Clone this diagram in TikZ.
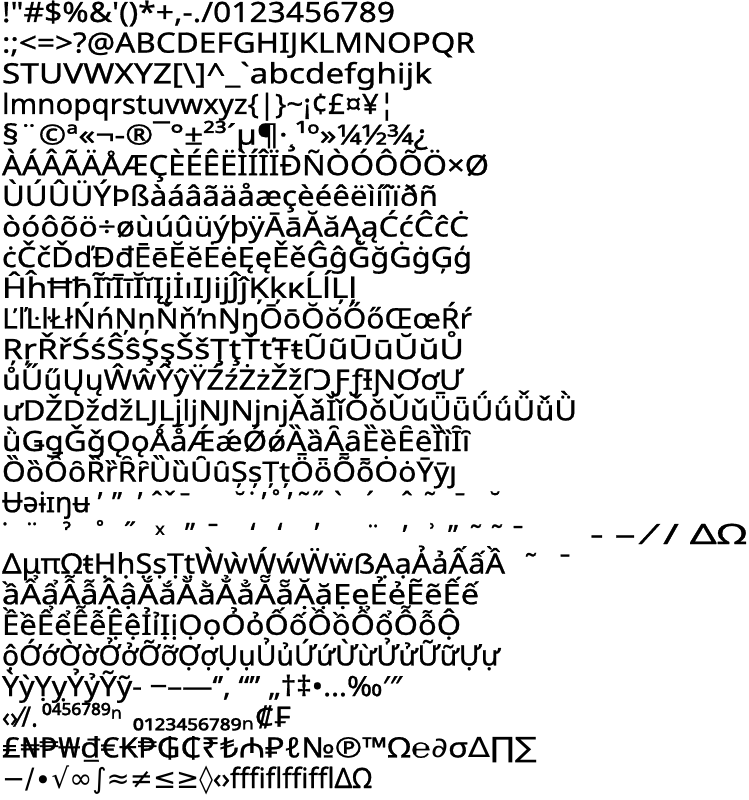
\documentclass[tikz,border=0pt]{standalone}
\usepackage{fontspec}
\usepackage{graphicx}
\usepackage{tikz}
\usetikzlibrary{positioning}
\newfontfamily\specimen{Noto Sans}[Ligatures=TeXOff,FakeBold=0.8]
\newfontfamily\mathsym{DejaVu Sans}[Ligatures=TeXOff]
\newcommand{\fitrow}[2]{\resizebox{#1pt}{\height}{#2}}

\begin{document}
\begin{tikzpicture}[x=1pt,y=-1pt,
    glyphrow/.style={anchor=base west,inner sep=0pt,outer sep=0pt,font=\specimen\fontsize{28}{28}\selectfont},
    glyphmark/.style={anchor=base,inner sep=0pt,outer sep=0pt,font=\specimen\fontsize{28}{28}\selectfont}]
  \useasboundingbox (0,0) rectangle (749,800);
  % Basic Latin and Latin-1
  \node[glyphrow] (r1) at (2,22.0) {\fitrow{393}{!"\#\$\%\&'()*+,-./0123456789}};
  \node[glyphrow] (r2) at (2,52.6) {\fitrow{473}{:;<=>?@ABCDEFGHIJKLMNOPQR}};
  \node[glyphrow] (r3) at (2,83.3) {\fitrow{430}{STUVWXYZ[\textbackslash]\textasciicircum\_`abcdefghijk}};
  \node[glyphrow] (r4) at (2,113.9) {\fitrow{393}{lmnopqrstuvwxyz\{|\}\textasciitilde¡¢£¤¥¦}};
  \node[glyphrow] (r5) at (2,144.6) {\fitrow{426}{§¨©ª«¬-®¯°±²³´µ¶·¸¹º»¼½¾¿}};
  \node[glyphrow] (r6) at (2,175.2) {\fitrow{487}{ÀÁÂÃÄÅÆÇÈÉÊËÌÍÎÏÐÑÒÓÔÕÖ×Ø}};
  \node[glyphrow] (r7) at (2,205.8) {\fitrow{436}{ÙÚÛÜÝÞßàáâãäåæçèéêëìíîïðñ}};
  % Latin Extended-A
  \node[glyphrow] (r8) at (2,236.5) {\fitrow{467}{òóôõö÷øùúûüýþÿĀāĂăĄąĆćĈĉĊ}};
  \node[glyphrow] (r9) at (2,267.1) {\fitrow{470}{ċČčĎďĐđĒēĔĕĖėĘęĚěĜĝĞğĠġĢģ}};
  \node[glyphrow] (r10) at (2,297.8) {\fitrow{355}{ĤĥĦħĨĩĪīĬĭĮįİıĲĳĴĵĶķĸĹĺĻļ}};
  \node[glyphrow] (r11) at (2,328.4) {\fitrow{470}{ĽľĿŀŁłŃńŅņŇňŉŊŋŌōŎŏŐőŒœŔŕ}};
  \node[glyphrow] (r12) at (2,359.0) {\fitrow{462}{ŖŗŘřŚśŜŝŞşŠšŢţŤťŦŧŨũŪūŬŭŮ}};
  % Latin Extended-B and IPA
  \node[glyphrow] (r13) at (2,389.7) {\fitrow{461}{ůŰűŲųŴŵŶŷŸŹźŻżŽžſƆƑƒƗƝƠơƯ}};
  \node[glyphrow] (r14) at (2,420.3) {\fitrow{575}{ưǄǅǆǇǈǉǊǋǌǍǎǏǐǑǒǓǔǕǖǗǘǙǚǛ}};
  \node[glyphrow] (r15) at (2,451.0) {\fitrow{468}{ǜǤǥǦǧǪǫǺǻǼǽǾǿȀȁȂȃȄȅȆȇȈȉȊȋ}};
  \node[glyphrow] (r16) at (2,481.6) {\fitrow{455}{ȌȍȎȏȐȑȒȓȔȕȖȗȘșȚțȪȫȬȭȮȯȲȳȷ}};
  \node[glyphrow] (r17) at (2,512.2) {\fitrow{88}{Ʉəɨɪŋʉ}};
  % Spacing marks
  \foreach \x/\m in {100/ʹ, 117/ʺ, 140/ʼ, 157/ˆ, 170/ˇ, 185/ˉ, 240/˘, 252/˙, 264/ʼ, 276/˚,
                     290/ʼ, 304/˜, 318/˝, 338/ˋ, 370/ˊ, 407/ˆ, 430/˜, 460/ˉ, 495/˘}
    \node[glyphmark] (a\x) at (\x,512.2) {\m};
  \foreach \x/\m in {5/˙, 32/¨, 67/ˀ, 100/˚, 130/˝, 160/ˣ, 190/ʺ, 213/ˉ, 253/ʻ, 280/ʻ, 317/ʼ}
    \node[glyphmark] (b\x) at (\x,542.9) {\m};
  \foreach \x/\m in {373/¨, 405/ʼ, 432/ʾ, 453/ʺ, 476/˜, 497/˜, 518/ˉ}
    \node[glyphmark] (c\x) at (\x,545.0) {\m};
  \node[glyphrow] (r18) at (590,544.0) {\fitrow{157}{‐ – ⁄ / ΔΩ}};
  % Greek and Latin Extended Additional
  \node[glyphrow] (r19) at (2,573.5) {\fitrow{503}{ΔμπΩŧḤḥṢṣṬṭẀẁẂẃẄẅẞẠạẢảẤấẦ}};
  \node[glyphmark] (m19a) at (531,573.5) {˜};
  \node[glyphmark] (m19b) at (565,573.5) {ˉ};
  \node[glyphrow] (r20) at (2,604.2) {\fitrow{477}{ầẨẩẪẫẬậẮắẰằẲẳẴẵẶặẸẹẺẻẼẽẾế}};
  \node[glyphrow] (r21) at (2,634.8) {\fitrow{459}{ỀềỂểỄễỆệỈỉỊịỌọỎỏỐốỒồỔổỖỗỘ}};
  \node[glyphrow] (r22) at (2,665.4) {\fitrow{498}{ộỚớỜờỞởỠỡỢợỤụỦủỨứỪừỬửỮữỰự}};
  % Punctuation, scripts, currency and math
  \node[glyphrow] (r23) at (2,696.1) {\fitrow{400}{ỲỳỴỵỶỷỸỹ‐ ‒–—‘’‚ “” „†‡•…‰′″}};
  \node[glyphrow] (r24a) at (2,726.7) {\fitrow{36}{‹›⁄/.}};
  \node[glyphrow] (r24b) at (42,726.7) {\fitrow{80}{⁰⁴⁵⁶⁷⁸⁹ⁿ}};
  \node[glyphrow] (r24c) at (133,726.7) {\fitrow{121}{₀₁₂₃₄₅₆₇₈₉ₙ}};
  \node[glyphrow] (r24d) at (255,726.7) {\fitrow{37}{₡₣}};
  \node[glyphrow] (r25) at (2,757.4) {\fitrow{535}{₤₦₱₩₫€₭₱₲₵₹₺₼₽ℓ№℗™Ω℮{\mathsym ∂}σ{\mathsym ∆∏∑}}};
  \node[glyphrow] (r26) at (2,788.0) {\fitrow{370}{{\mathsym −∕∙√∞∫≈≠≤≥◊}‹›ﬀﬁﬂﬃﬄΔΩ}};
\end{tikzpicture}
\end{document}
